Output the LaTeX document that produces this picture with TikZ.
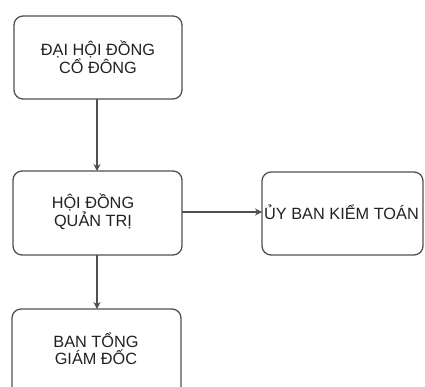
\documentclass[tikz,border=0pt]{standalone}
\usepackage{fontspec}
\setmainfont{Liberation Sans}
\usetikzlibrary{arrows.meta}
\definecolor{ln}{HTML}{505050}
\definecolor{tx}{HTML}{222222}
\begin{document}
\begin{tikzpicture}[x=1pt,y=-1pt,
  orgbox/.style={draw=ln,line width=1.3pt,rounded corners=9pt,fill=white},
  lbl/.style={text=tx,font=\fontsize{16.3}{17}\selectfont,align=center,inner sep=0pt},
  conn/.style={draw=ln,line width=1.2pt,-{Stealth[length=7pt,width=7pt]}}]
\useasboundingbox (0,0) rectangle (425,387);
\fill[white] (0,0) rectangle (425,387);
\draw[orgbox] (14,16) rectangle (182,99);
\node[lbl] (a) at (98,57) {ĐẠI HỘI ĐỒNG\\CỔ ĐÔNG};
\draw[orgbox] (13,171) rectangle (182,255);
\node[lbl] (b) at (93,212) {HỘI ĐỒNG\\QUẢN TRỊ};
\draw[orgbox] (12,309) rectangle (181,398);
\node[lbl] (c) at (96,349) {BAN TỔNG\\GIÁM ĐỐC};
\draw[orgbox] (262,172) rectangle (423,255);
\node[lbl,anchor=west] (d) at (264,212) {ỦY BAN KIỂM TOÁN};
\coordinate (a1) at (97,99);
\coordinate (b1) at (97,171);
\coordinate (b2) at (97,255);
\coordinate (c1) at (97,309);
\coordinate (b3) at (182,212);
\coordinate (d1) at (262,212);
\draw[conn] (a1) -- (b1);
\draw[conn] (b2) -- (c1);
\draw[conn] (b3) -- (d1);
\end{tikzpicture}
\end{document}
